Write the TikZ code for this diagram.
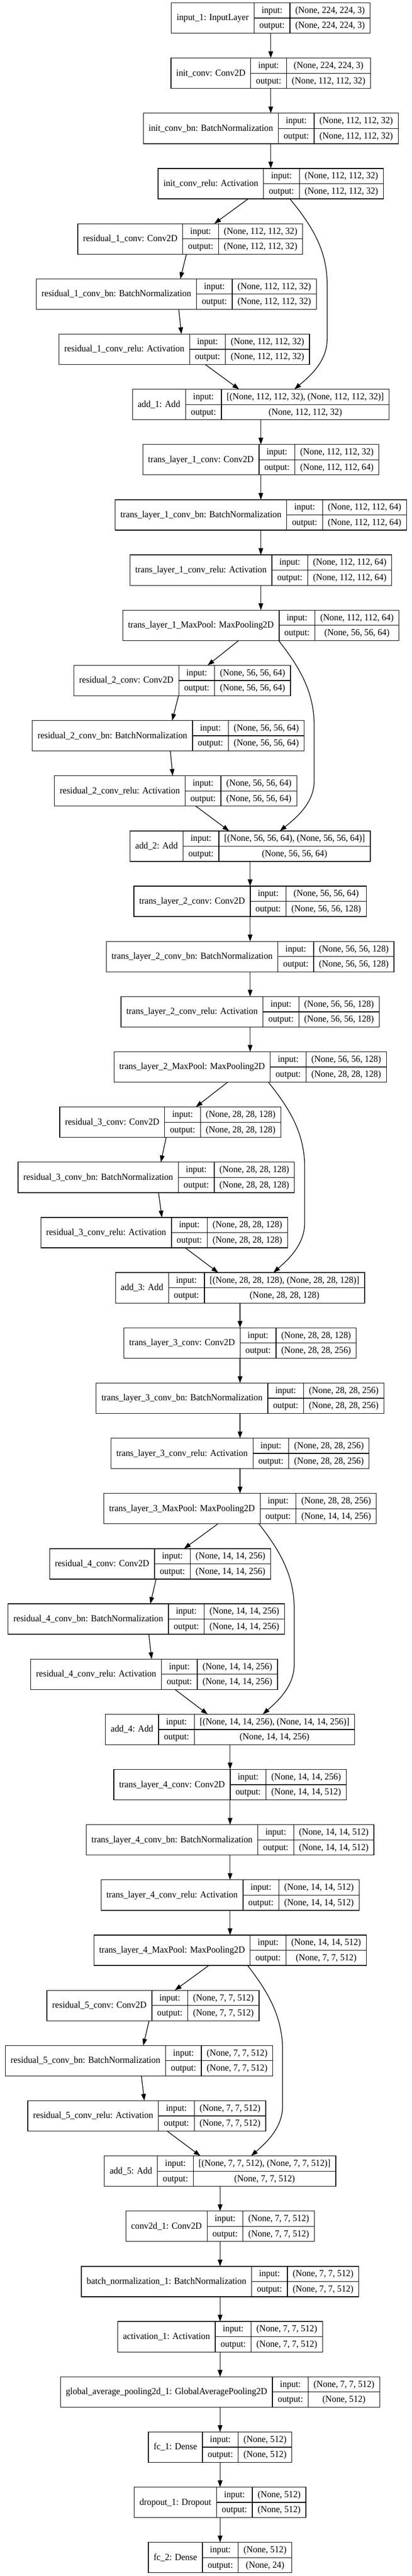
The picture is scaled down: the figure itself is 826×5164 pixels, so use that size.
\documentclass[tikz,border=0pt]{standalone}
\usepackage{fontspec}
\setmainfont{Liberation Serif}[FakeStretch=0.955]
\usetikzlibrary{arrows.meta,calc}
\newdimen\kwa \newdimen\kwb \newdimen\kwc
\newcommand\kfont{\fontsize{18.67pt}{22pt}\selectfont}
\tikzset{
  layer/.style={draw, rectangle, minimum height=61pt, inner sep=0pt, outer sep=0pt, line width=1.33pt},
  sep/.style={line width=1.33pt},
  txt/.style={anchor=base, inner sep=0pt, font=\kfont},
  arr/.style={line width=1.33pt, -{Triangle[length=13.5pt,width=9.3pt]}}
}
\newcommand\kmeasure[3]{%
  \pgfinterruptpicture
  \setbox0=\hbox{\kfont #1}\global\kwa=\wd0
  \setbox0=\hbox{\kfont output:}\global\kwb=\wd0
  \setbox0=\hbox{\kfont #2}\global\kwc=\wd0
  \setbox0=\hbox{\kfont #3}\ifdim\wd0>\kwc \global\kwc=\wd0 \fi
  \endpgfinterruptpicture
  \global\advance\kwa by 21.33pt
  \global\advance\kwb by 21.33pt
  \global\advance\kwc by 21.33pt
}
\newcommand\klayer[6]{%
  \kmeasure{#4}{#5}{#6}%
  \pgfmathsetmacro\kA{\kwa}%
  \pgfmathsetmacro\kB{\kwb}%
  \pgfmathsetmacro\kC{\kwc}%
  \pgfmathsetmacro\kW{\kA+\kB+\kC}%
  \pgfmathsetmacro\kL{#2-\kW/2}%
  \pgfmathsetmacro\kT{5.7+#3*110.67}%
  \pgfmathsetmacro\kM{\kT+30.5}%
  \pgfmathsetmacro\kBt{\kT+61}%
  \pgfmathsetmacro\kxa{\kL+\kA}%
  \pgfmathsetmacro\kxb{\kxa+\kB}%
  \pgfmathsetmacro\kxR{\kL+\kW}%
  \node[layer, minimum width=\kW pt] (#1) at (#2,\kM) {};
  \draw[sep] (\kxa,\kT) -- (\kxa,\kBt) (\kxb,\kT) -- (\kxb,\kBt) (\kxa,\kM) -- (\kxR,\kM);
  \node[txt] (#1-l) at ({\kL+\kA/2},{\kM+5.1}) {#4};
  \node[txt] (#1-i) at ({\kxa+\kB/2},{\kM-15.25+5.3}) {input:};
  \node[txt] (#1-o) at ({\kxa+\kB/2},{\kM+15.25+5.3}) {output:};
  \node[txt] (#1-is) at ({\kxb+\kC/2},{\kM-15.25+5.3}) {#5};
  \node[txt] (#1-os) at ({\kxb+\kC/2},{\kM+15.25+5.3}) {#6};
}
\newcommand\skipedge[5]{%
  \draw[arr] let \p1=([xshift=#3pt]#1.south), \p2=([xshift=#5pt]#2.north) in
    (\p1) .. controls ({\x1+0.55*(#4pt-\x1)},{\y1-50pt}) and (#4pt,{\y1-100pt}) .. (#4pt,{\y1-170pt})
    -- (#4pt,{\y2+100pt}) .. controls (#4pt,{\y2+55pt}) and ({\x2+0.45*(#4pt-\x2)},{\y2+25pt}) .. (\p2);
}
\newcommand\vedge[2]{\draw[arr] (#1.south) -- (#2.north);}
\begin{document}
\begin{tikzpicture}[x=1pt,y=-1pt]
\useasboundingbox (0,0) rectangle (826,5164);
\fill[white] (0,0) rectangle (826,5164);
% block 0
\klayer{in1}{543}{0}{input\_1: InputLayer}{(None, 224, 224, 3)}{(None, 224, 224, 3)}
\klayer{ic}{543}{1}{init\_conv: Conv2D}{(None, 224, 224, 3)}{(None, 112, 112, 32)}
\klayer{icbn}{543}{2}{init\_conv\_bn: BatchNormalization}{(None, 112, 112, 32)}{(None, 112, 112, 32)}
\klayer{icr}{543}{3}{init\_conv\_relu: Activation}{(None, 112, 112, 32)}{(None, 112, 112, 32)}
% block 1
\klayer{r1c}{381.4}{4}{residual\_1\_conv: Conv2D}{(None, 112, 112, 32)}{(None, 112, 112, 32)}
\klayer{r1bn}{353.5}{5}{residual\_1\_conv\_bn: BatchNormalization}{(None, 112, 112, 32)}{(None, 112, 112, 32)}
\klayer{r1r}{369.5}{6}{residual\_1\_conv\_relu: Activation}{(None, 112, 112, 32)}{(None, 112, 112, 32)}
\klayer{add1}{523.1}{7}{add\_1: Add}{[(None, 112, 112, 32), (None, 112, 112, 32)]}{(None, 112, 112, 32)}
\klayer{t1c}{523.1}{8}{trans\_layer\_1\_conv: Conv2D}{(None, 112, 112, 32)}{(None, 112, 112, 64)}
\klayer{t1bn}{523.1}{9}{trans\_layer\_1\_conv\_bn: BatchNormalization}{(None, 112, 112, 64)}{(None, 112, 112, 64)}
\klayer{t1r}{523.1}{10}{trans\_layer\_1\_conv\_relu: Activation}{(None, 112, 112, 64)}{(None, 112, 112, 64)}
\klayer{t1mp}{523.1}{11}{trans\_layer\_1\_MaxPool: MaxPooling2D}{(None, 112, 112, 64)}{(None, 56, 56, 64)}
% block 2
\klayer{r2c}{365.3}{12}{residual\_2\_conv: Conv2D}{(None, 56, 56, 64)}{(None, 56, 56, 64)}
\klayer{r2bn}{337.4}{13}{residual\_2\_conv\_bn: BatchNormalization}{(None, 56, 56, 64)}{(None, 56, 56, 64)}
\klayer{r2r}{352.2}{14}{residual\_2\_conv\_relu: Activation}{(None, 56, 56, 64)}{(None, 56, 56, 64)}
\klayer{add2}{501.6}{15}{add\_2: Add}{[(None, 56, 56, 64), (None, 56, 56, 64)]}{(None, 56, 56, 64)}
\klayer{t2c}{501.6}{16}{trans\_layer\_2\_conv: Conv2D}{(None, 56, 56, 64)}{(None, 56, 56, 128)}
\klayer{t2bn}{501.6}{17}{trans\_layer\_2\_conv\_bn: BatchNormalization}{(None, 56, 56, 128)}{(None, 56, 56, 128)}
\klayer{t2r}{501.6}{18}{trans\_layer\_2\_conv\_relu: Activation}{(None, 56, 56, 128)}{(None, 56, 56, 128)}
\klayer{t2mp}{501.6}{19}{trans\_layer\_2\_MaxPool: MaxPooling2D}{(None, 56, 56, 128)}{(None, 28, 28, 128)}
% block 3
\klayer{r3c}{341.4}{20}{residual\_3\_conv: Conv2D}{(None, 28, 28, 128)}{(None, 28, 28, 128)}
\klayer{r3bn}{313.4}{21}{residual\_3\_conv\_bn: BatchNormalization}{(None, 28, 28, 128)}{(None, 28, 28, 128)}
\klayer{r3r}{329.2}{22}{residual\_3\_conv\_relu: Activation}{(None, 28, 28, 128)}{(None, 28, 28, 128)}
\klayer{add3}{481.4}{23}{add\_3: Add}{[(None, 28, 28, 128), (None, 28, 28, 128)]}{(None, 28, 28, 128)}
\klayer{t3c}{481.4}{24}{trans\_layer\_3\_conv: Conv2D}{(None, 28, 28, 128)}{(None, 28, 28, 256)}
\klayer{t3bn}{481.4}{25}{trans\_layer\_3\_conv\_bn: BatchNormalization}{(None, 28, 28, 256)}{(None, 28, 28, 256)}
\klayer{t3r}{481.4}{26}{trans\_layer\_3\_conv\_relu: Activation}{(None, 28, 28, 256)}{(None, 28, 28, 256)}
\klayer{t3mp}{481.4}{27}{trans\_layer\_3\_MaxPool: MaxPooling2D}{(None, 28, 28, 256)}{(None, 14, 14, 256)}
% block 4
\klayer{r4c}{321}{28}{residual\_4\_conv: Conv2D}{(None, 14, 14, 256)}{(None, 14, 14, 256)}
\klayer{r4bn}{293.4}{29}{residual\_4\_conv\_bn: BatchNormalization}{(None, 14, 14, 256)}{(None, 14, 14, 256)}
\klayer{r4r}{309.2}{30}{residual\_4\_conv\_relu: Activation}{(None, 14, 14, 256)}{(None, 14, 14, 256)}
\klayer{add4}{461.4}{31}{add\_4: Add}{[(None, 14, 14, 256), (None, 14, 14, 256)]}{(None, 14, 14, 256)}
\klayer{t4c}{461.4}{32}{trans\_layer\_4\_conv: Conv2D}{(None, 14, 14, 256)}{(None, 14, 14, 512)}
\klayer{t4bn}{461.4}{33}{trans\_layer\_4\_conv\_bn: BatchNormalization}{(None, 14, 14, 512)}{(None, 14, 14, 512)}
\klayer{t4r}{461.4}{34}{trans\_layer\_4\_conv\_relu: Activation}{(None, 14, 14, 512)}{(None, 14, 14, 512)}
\klayer{t4mp}{461.4}{35}{trans\_layer\_4\_MaxPool: MaxPooling2D}{(None, 14, 14, 512)}{(None, 7, 7, 512)}
% block 5
\klayer{r5c}{306.8}{36}{residual\_5\_conv: Conv2D}{(None, 7, 7, 512)}{(None, 7, 7, 512)}
\klayer{r5bn}{278.9}{37}{residual\_5\_conv\_bn: BatchNormalization}{(None, 7, 7, 512)}{(None, 7, 7, 512)}
\klayer{r5r}{294.4}{38}{residual\_5\_conv\_relu: Activation}{(None, 7, 7, 512)}{(None, 7, 7, 512)}
\klayer{add5}{441.4}{39}{add\_5: Add}{[(None, 7, 7, 512), (None, 7, 7, 512)]}{(None, 7, 7, 512)}
\klayer{c2d}{441.4}{40}{conv2d\_1: Conv2D}{(None, 7, 7, 512)}{(None, 7, 7, 512)}
\klayer{bn1}{441.4}{41}{batch\_normalization\_1: BatchNormalization}{(None, 7, 7, 512)}{(None, 7, 7, 512)}
\klayer{act1}{441.4}{42}{activation\_1: Activation}{(None, 7, 7, 512)}{(None, 7, 7, 512)}
\klayer{gap}{441.4}{43}{global\_average\_pooling2d\_1: GlobalAveragePooling2D}{(None, 7, 7, 512)}{(None, 512)}
\klayer{fc1}{441.4}{44}{fc\_1: Dense}{(None, 512)}{(None, 512)}
\klayer{drop}{441.4}{45}{dropout\_1: Dropout}{(None, 512)}{(None, 512)}
\klayer{fc2}{441.4}{46}{fc\_2: Dense}{(None, 512)}{(None, 24)}
% edges block 0
\vedge{in1}{ic}\vedge{ic}{icbn}\vedge{icbn}{icr}
% block 1
\draw[arr] ([xshift=-45.4pt]icr.south) -- ([xshift=48.3pt]r1c.north);
\draw[arr] ([xshift=-7.5pt]r1c.south) -- ([xshift=8.1pt]r1bn.north);
\draw[arr] ([xshift=5pt]r1bn.south) -- ([xshift=-5.8pt]r1r.north);
\draw[arr] ([xshift=42.2pt]r1r.south) -- ([xshift=-43.5pt]add1.north);
\skipedge{icr}{add1}{38.4}{656}{67.2}
\vedge{add1}{t1c}\vedge{t1c}{t1bn}\vedge{t1bn}{t1r}\vedge{t1r}{t1mp}
% block 2
\draw[arr] ([xshift=-44.5pt]t1mp.south) -- ([xshift=51.1pt]r2c.north);
\draw[arr] ([xshift=-7.3pt]r2c.south) -- ([xshift=7.9pt]r2bn.north);
\draw[arr] ([xshift=4.2pt]r2bn.south) -- ([xshift=-5.9pt]r2r.north);
\draw[arr] ([xshift=40.5pt]r2r.south) -- ([xshift=-42pt]add2.north);
\skipedge{t1mp}{add2}{35.7}{630}{59.7}
\vedge{add2}{t2c}\vedge{t2c}{t2bn}\vedge{t2bn}{t2r}\vedge{t2r}{t2mp}
% block 3
\draw[arr] ([xshift=-45.1pt]t2mp.south) -- ([xshift=51.3pt]r3c.north);
\draw[arr] ([xshift=-8.2pt]r3c.south) -- ([xshift=9.2pt]r3bn.north);
\draw[arr] ([xshift=4.5pt]r3bn.south) -- ([xshift=-4.5pt]r3r.north);
\draw[arr] ([xshift=42.4pt]r3r.south) -- ([xshift=-43.8pt]add3.north);
\skipedge{t2mp}{add3}{36.6}{611}{66.9}
\vedge{add3}{t3c}\vedge{t3c}{t3bn}\vedge{t3bn}{t3r}\vedge{t3r}{t3mp}
% block 4
\draw[arr] ([xshift=-44.4pt]t3mp.south) -- ([xshift=48pt]r4c.north);
\draw[arr] ([xshift=-8pt]r4c.south) -- ([xshift=8.1pt]r4bn.north);
\draw[arr] ([xshift=5pt]r4bn.south) -- ([xshift=-5pt]r4r.north);
\draw[arr] ([xshift=41.8pt]r4r.south) -- ([xshift=-44.9pt]add4.north);
\skipedge{t3mp}{add4}{37.8}{590}{65.7}
\vedge{add4}{t4c}\vedge{t4c}{t4bn}\vedge{t4bn}{t4r}\vedge{t4r}{t4mp}
% block 5
\draw[arr] ([xshift=-42.8pt]t4mp.south) -- ([xshift=43.8pt]r5c.north);
\draw[arr] ([xshift=-7.8pt]r5c.south) -- ([xshift=8.4pt]r5bn.north);
\draw[arr] ([xshift=4.7pt]r5bn.south) -- ([xshift=-5pt]r5r.north);
\draw[arr] ([xshift=40.9pt]r5r.south) -- ([xshift=-39.5pt]add5.north);
\skipedge{t4mp}{add5}{35.2}{566.7}{62.2}
\vedge{add5}{c2d}\vedge{c2d}{bn1}\vedge{bn1}{act1}\vedge{act1}{gap}
\vedge{gap}{fc1}\vedge{fc1}{drop}\vedge{drop}{fc2}
\end{tikzpicture}
\end{document}
